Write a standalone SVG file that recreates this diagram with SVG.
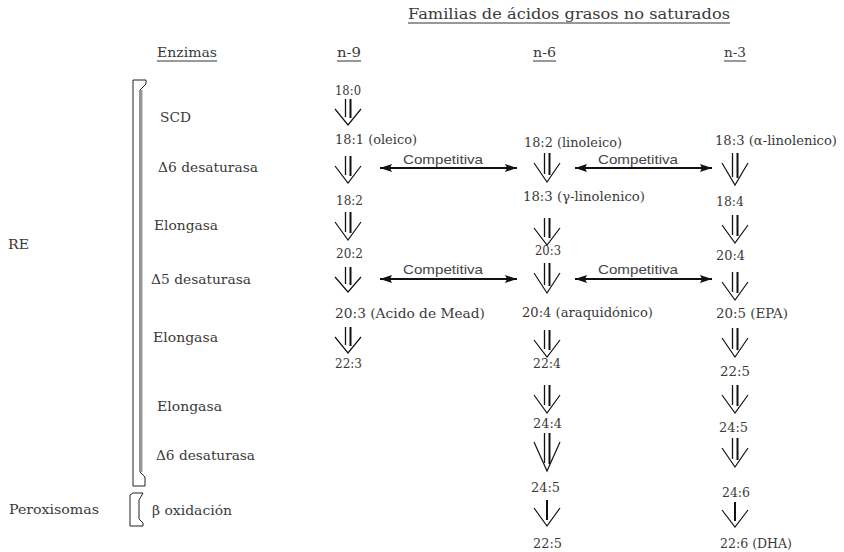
<svg xmlns="http://www.w3.org/2000/svg" width="844" height="552" viewBox="0 0 844 552">
<style>
text{font-family:"DejaVu Serif","Liberation Serif",serif;font-size:12.5px;fill:#3a3a3a}
.t{font-size:14.5px}
.c{font-family:"Liberation Sans",Arial,sans-serif;font-size:13px;fill:#444}
.ul{stroke:#333;stroke-width:1}
.da path{fill:none;stroke:#111}
.v{stroke-width:1.2}
.l1{stroke-width:1.3}
.l2{stroke-width:2}
.cmp{stroke:#111;stroke-width:2;fill:none}
.br{fill:none;stroke:#222;stroke-width:1}
</style>
<defs>
<marker id="ah" viewBox="0 0 12 8" refX="12" refY="4" markerWidth="12" markerHeight="8" markerUnits="userSpaceOnUse" orient="auto-start-reverse">
<path d="M0,0 L12,4 L0,8 L2,4 Z" fill="#111"/>
</marker>
</defs>
<rect width="844" height="552" fill="#fff"/>

<g id="title">
<text class="t" x="408" y="19" textLength="322" lengthAdjust="spacingAndGlyphs">Familias de ácidos grasos no saturados</text>
<line class="ul" x1="408" y1="23" x2="730" y2="23"/>
</g>
<g id="h-enzimas"><text x="157" y="57" textLength="60" lengthAdjust="spacingAndGlyphs">Enzimas</text><line class="ul" x1="157" y1="61" x2="217" y2="61"/></g>
<g id="h-n9"><text x="337" y="57" textLength="24" lengthAdjust="spacingAndGlyphs">n-9</text><line class="ul" x1="337" y1="61" x2="361" y2="61"/></g>
<g id="h-n6"><text x="533" y="57" textLength="23" lengthAdjust="spacingAndGlyphs">n-6</text><line class="ul" x1="533" y1="61" x2="556" y2="61"/></g>
<g id="h-n3"><text x="724" y="57" textLength="22" lengthAdjust="spacingAndGlyphs">n-3</text><line class="ul" x1="724" y1="61" x2="746" y2="61"/></g>

<g id="brackets">
<path class="br" d="M133,80 H146 V84 L140,90 V472 L145,477 V486 H133 Z"/>
<line x1="141.5" y1="90" x2="141.5" y2="472" stroke="#999" stroke-width="2"/>
<path class="br" d="M130,495 L133,493 H143 L139,500 V519 L143,523 V526 H130 Z"/>
</g>

<g id="re"><text x="8" y="249" textLength="21" lengthAdjust="spacingAndGlyphs">RE</text></g>
<g id="peroxisomas"><text x="9" y="514" textLength="90" lengthAdjust="spacingAndGlyphs">Peroxisomas</text></g>

<g id="enz-scd"><text x="160" y="122" textLength="31" lengthAdjust="spacingAndGlyphs">SCD</text></g>
<g id="enz-d6a"><text x="158" y="172" textLength="100" lengthAdjust="spacingAndGlyphs">Δ6 desaturasa</text></g>
<g id="enz-elo1"><text x="154" y="230" textLength="64" lengthAdjust="spacingAndGlyphs">Elongasa</text></g>
<g id="enz-d5"><text x="151" y="284" textLength="100" lengthAdjust="spacingAndGlyphs">Δ5 desaturasa</text></g>
<g id="enz-elo2"><text x="153" y="342" textLength="65" lengthAdjust="spacingAndGlyphs">Elongasa</text></g>
<g id="enz-elo3"><text x="157" y="411" textLength="65" lengthAdjust="spacingAndGlyphs">Elongasa</text></g>
<g id="enz-d6b"><text x="156" y="460" textLength="99" lengthAdjust="spacingAndGlyphs">Δ6 desaturasa</text></g>
<g id="enz-box"><text x="152" y="515" textLength="80" lengthAdjust="spacingAndGlyphs">β oxidación</text></g>

<!-- n-9 -->
<g id="n9-180"><text x="335" y="95" textLength="26" lengthAdjust="spacingAndGlyphs">18:0</text></g>
<g id="n9-181"><text x="335" y="144" textLength="82" lengthAdjust="spacingAndGlyphs">18:1 (oleico)</text></g>
<g id="n9-182"><text x="336" y="205" textLength="27" lengthAdjust="spacingAndGlyphs">18:2</text></g>
<g id="n9-202"><text x="336" y="258" textLength="27" lengthAdjust="spacingAndGlyphs">20:2</text></g>
<g id="n9-203"><text x="335" y="318" textLength="150" lengthAdjust="spacingAndGlyphs">20:3 (Acido de Mead)</text></g>
<g id="n9-223"><text x="335" y="368" textLength="27" lengthAdjust="spacingAndGlyphs">22:3</text></g>

<!-- n-6 -->
<g id="n6-182"><text x="524" y="147" textLength="98" lengthAdjust="spacingAndGlyphs">18:2 (linoleico)</text></g>
<g id="n6-183"><text x="523" y="201" textLength="122" lengthAdjust="spacingAndGlyphs">18:3 (γ-linolenico)</text></g>
<g id="n6-203"><text x="535" y="255" textLength="26" lengthAdjust="spacingAndGlyphs">20:3</text></g>
<g id="n6-204"><text x="522" y="317" textLength="131" lengthAdjust="spacingAndGlyphs">20:4 (araquidónico)</text></g>
<g id="n6-224"><text x="533" y="368" textLength="28" lengthAdjust="spacingAndGlyphs">22:4</text></g>
<g id="n6-244"><text x="533" y="428" textLength="29" lengthAdjust="spacingAndGlyphs">24:4</text></g>
<g id="n6-245"><text x="531" y="492" textLength="29" lengthAdjust="spacingAndGlyphs">24:5</text></g>
<g id="n6-225"><text x="533" y="548" textLength="29" lengthAdjust="spacingAndGlyphs">22:5</text></g>

<!-- n-3 -->
<g id="n3-183"><text x="715" y="145" textLength="122" lengthAdjust="spacingAndGlyphs">18:3 (α-linolenico)</text></g>
<g id="n3-184"><text x="716" y="206" textLength="28" lengthAdjust="spacingAndGlyphs">18:4</text></g>
<g id="n3-204"><text x="716" y="260" textLength="29" lengthAdjust="spacingAndGlyphs">20:4</text></g>
<g id="n3-205"><text x="716" y="318" textLength="72" lengthAdjust="spacingAndGlyphs">20:5 (EPA)</text></g>
<g id="n3-225"><text x="720" y="376" textLength="30" lengthAdjust="spacingAndGlyphs">22:5</text></g>
<g id="n3-245"><text x="719" y="432" textLength="29" lengthAdjust="spacingAndGlyphs">24:5</text></g>
<g id="n3-246"><text x="722" y="497" textLength="28" lengthAdjust="spacingAndGlyphs">24:6</text></g>
<g id="n3-226"><text x="720" y="548" textLength="72" lengthAdjust="spacingAndGlyphs">22:6 (DHA)</text></g>

<g id="connectors">
<g class="da">
<!-- n-9 cx=348 -->
<path class="l1" d="M345.5,99 V117"/><path class="l2" d="M350.5,99 V118"/><path class="v" d="M335,109 L348,125 L361,109"/>
<path class="l1" d="M345.5,156 V175"/><path class="l2" d="M350.5,156 V176"/><path class="v" d="M335,166 L348,183 L361,166"/>
<path class="l1" d="M345.5,212 V232"/><path class="l2" d="M350.5,212 V233"/><path class="v" d="M335,222 L348,240 L361,222"/>
<path class="l1" d="M345.5,267 V284"/><path class="l2" d="M350.5,267 V285"/><path class="v" d="M335,277 L348,292 L361,277"/>
<path class="l1" d="M345.5,327 V345"/><path class="l2" d="M350.5,327 V346"/><path class="v" d="M335,337 L348,353 L361,337"/>
<!-- n-6 cx=547 -->
<path class="l1" d="M544.5,153 V174"/><path class="l2" d="M549.5,153 V175"/><path class="v" d="M534,163 L547,182 L560,163"/>
<path class="l1" d="M544.5,218 V237"/><path class="l2" d="M549.5,218 V238"/><path class="v" d="M534,228 L547,245 L560,228"/>
<path class="l1" d="M544.5,263 V285"/><path class="l2" d="M549.5,263 V286"/><path class="v" d="M534,273 L547,293 L560,273"/>
<path class="l1" d="M544.5,330 V349"/><path class="l2" d="M549.5,330 V350"/><path class="v" d="M534,340 L547,357 L560,340"/>
<path class="l1" d="M544.5,385 V405"/><path class="l2" d="M549.5,385 V406"/><path class="v" d="M534,395 L547,413 L560,395"/>
<path class="l1" d="M544.5,433 V463"/><path class="l2" d="M549.5,433 V464"/><path class="v" d="M534,442 L547,471 L560,442"/>
<path class="l2" d="M547,500 V520"/><path class="v" d="M534,508 L547,526 L560,508"/>
<!-- n-3 cx=735 -->
<path class="l1" d="M732.5,153 V177"/><path class="l2" d="M737.5,153 V178"/><path class="v" d="M722,163 L735,185 L748,163"/>
<path class="l1" d="M732.5,215 V235"/><path class="l2" d="M737.5,215 V236"/><path class="v" d="M722,225 L735,243 L748,225"/>
<path class="l1" d="M732.5,272 V292"/><path class="l2" d="M737.5,272 V293"/><path class="v" d="M722,282 L735,300 L748,282"/>
<path class="l1" d="M732.5,328 V349"/><path class="l2" d="M737.5,328 V350"/><path class="v" d="M722,338 L735,357 L748,338"/>
<path class="l1" d="M732.5,385 V405"/><path class="l2" d="M737.5,385 V406"/><path class="v" d="M722,395 L735,413 L748,395"/>
<path class="l1" d="M732.5,438 V459"/><path class="l2" d="M737.5,438 V460"/><path class="v" d="M722,448 L735,467 L748,448"/>
<path class="l2" d="M735,502 V521"/><path class="v" d="M722,510 L735,527 L748,510"/>
</g>
<g id="competitiva">
<line class="cmp" x1="380" y1="168" x2="517" y2="168" marker-start="url(#ah)" marker-end="url(#ah)"/>
<line class="cmp" x1="575" y1="168" x2="712" y2="168" marker-start="url(#ah)" marker-end="url(#ah)"/>
<line class="cmp" x1="380" y1="279" x2="517" y2="279" marker-start="url(#ah)" marker-end="url(#ah)"/>
<line class="cmp" x1="575" y1="279" x2="712" y2="279" marker-start="url(#ah)" marker-end="url(#ah)"/>
<text class="c" x="403" y="164" textLength="80" lengthAdjust="spacingAndGlyphs">Competitiva</text>
<text class="c" x="598" y="164" textLength="80" lengthAdjust="spacingAndGlyphs">Competitiva</text>
<text class="c" x="403" y="274" textLength="80" lengthAdjust="spacingAndGlyphs">Competitiva</text>
<text class="c" x="598" y="274" textLength="80" lengthAdjust="spacingAndGlyphs">Competitiva</text>
</g>
</g>
</svg>
